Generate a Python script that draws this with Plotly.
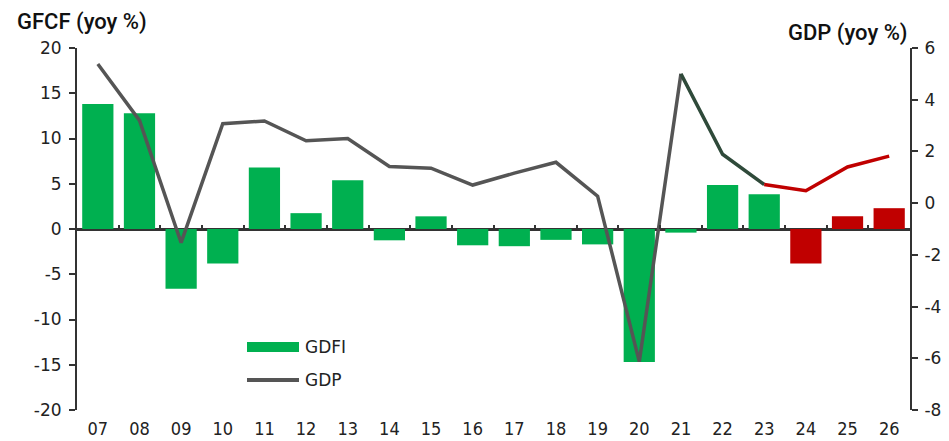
import plotly.graph_objects as go

years = ["07", "08", "09", "10", "11", "12", "13", "14", "15", "16",
         "17", "18", "19", "20", "21", "22", "23", "24", "25", "26"]
gdfi = [13.8, 12.8, -6.6, -3.8, 6.8, 1.75, 5.4, -1.25, 1.4, -1.8,
        -1.9, -1.2, -1.7, -14.7, -0.4, 4.85, 3.85, -3.8, 1.4, 2.3]
gdp = [5.38, 3.2, -1.53, 3.07, 3.18, 2.41, 2.5, 1.42, 1.35, 0.7,
       1.16, 1.58, 0.27, -6.13, 5.0, 1.89, 0.72, 0.48, 1.4, 1.82]
n_actual = 17  # 07..23 actual, 24..26 forecast
y1_ticks = [-20, -15, -10, -5, 0, 5, 10, 15, 20]
y2_ticks = [-8, -6, -4, -2, 0, 2, 4, 6]

GREEN = "#00b050"
RED = "#c00000"
GRAY = "#555555"
DARKGREEN = "#2f4a3a"

x = list(range(len(years)))
bar_colors = [GREEN if i < n_actual else RED for i in x]

fig = go.Figure()
fig.add_trace(go.Bar(x=x, y=gdfi, marker=dict(color=bar_colors, line=dict(width=0)),
                     width=0.75, yaxis="y", showlegend=False, name="GDFI"))
i21 = years.index("21")
i23 = years.index("23")
fig.add_trace(go.Scatter(x=x[:i21 + 1], y=gdp[:i21 + 1], mode="lines",
                         line=dict(color=GRAY, width=3.5), yaxis="y2", showlegend=False))
fig.add_trace(go.Scatter(x=x[i21:i23 + 1], y=gdp[i21:i23 + 1], mode="lines",
                         line=dict(color=DARKGREEN, width=3.5), yaxis="y2", showlegend=False))
fig.add_trace(go.Scatter(x=x[i23:], y=gdp[i23:], mode="lines",
                         line=dict(color=RED, width=3.5), yaxis="y2", showlegend=False))
fig.add_trace(go.Scatter(x=[-0.5, len(years) - 0.5], y=[0, 0], mode="lines",
                         line=dict(width=0), xaxis="x2", yaxis="y",
                         hoverinfo="skip", showlegend=False))

AX = "#333333"
tickfont_y = dict(family="DejaVu Sans", size=17, color="#222222")
fig.update_layout(
    width=949, height=441,
    margin=dict(l=77, r=39, t=48, b=31, autoexpand=False),
    plot_bgcolor="white", paper_bgcolor="white",
    xaxis=dict(range=[-0.5, len(years) - 0.5], tickmode="array", tickvals=x, ticktext=years,
               showline=False, showgrid=False, zeroline=False, automargin=False,
               ticks="outside", ticklen=2, tickcolor="rgba(0,0,0,0)",
               tickfont=dict(family="Liberation Sans Narrow, DejaVu Sans Condensed", size=18, color="#222222")),
    xaxis2=dict(range=[-0.5, len(years) - 0.5], overlaying="x", anchor="free", position=0.5,
                side="bottom", tickmode="array", tickvals=[i + 0.5 for i in x[:-1]],
                showticklabels=False, ticks="inside", ticklen=4, tickwidth=2, tickcolor=AX,
                showline=False, showgrid=False, zeroline=False, automargin=False),
    yaxis=dict(range=[-20, 20], tickvals=y1_ticks, ticktext=[str(v) for v in y1_ticks],
               showgrid=False, zeroline=True, zerolinecolor=AX, zerolinewidth=2.5,
               showline=True, linecolor=AX, linewidth=2, ticks="outside", ticklen=6,
               tickwidth=2, tickcolor=AX, tickfont=tickfont_y, automargin=False,
               ticklabelstandoff=4),
    yaxis2=dict(range=[-8, 6], tickvals=y2_ticks, ticktext=[str(v) for v in y2_ticks],
                overlaying="y", side="right",
                showgrid=False, zeroline=False, showline=True, linecolor=AX, linewidth=2,
                ticks="outside", ticklen=6, tickwidth=2, tickcolor=AX, tickfont=tickfont_y,
                automargin=False, ticklabelstandoff=3),
    font=dict(family="DejaVu Sans", color="#111111"),
)

title_font = dict(family="Roboto", size=22, color="#111111", weight=500)
fig.add_annotation(text="GFCF (yoy %)", xref="paper", yref="paper", x=(15 - 77) / 833, y=(410 - 22) / 362,
                   xanchor="left", yanchor="middle", showarrow=False, font=title_font)
fig.add_annotation(text="GDP (yoy %)", xref="paper", yref="paper", x=(910 - 77) / 833, y=(410 - 33) / 362,
                   xanchor="right", yanchor="middle", showarrow=False, font=title_font)

leg_font = dict(family="DejaVu Sans", size=17, color="#222222")
fig.add_shape(type="rect", xref="paper", yref="paper",
              x0=(247 - 77) / 833, x1=(299 - 77) / 833,
              y0=(410 - 352) / 362, y1=(410 - 342) / 362,
              fillcolor=GREEN, line=dict(width=0))
fig.add_shape(type="line", xref="paper", yref="paper",
              x0=(247 - 77) / 833, x1=(299 - 77) / 833,
              y0=(410 - 380) / 362, y1=(410 - 380) / 362,
              line=dict(color=GRAY, width=4))
fig.add_annotation(text="GDFI", xref="paper", yref="paper", x=(303 - 77) / 833, y=(410 - 347) / 362,
                   xanchor="left", yanchor="middle", showarrow=False, font=leg_font)
fig.add_annotation(text="GDP", xref="paper", yref="paper", x=(303 - 77) / 833, y=(410 - 380) / 362,
                   xanchor="left", yanchor="middle", showarrow=False, font=leg_font)

fig.write_html("out.html", config={"displayModeBar": False},
               post_script="document.body.style.margin='0';document.body.style.overflow='hidden';")
